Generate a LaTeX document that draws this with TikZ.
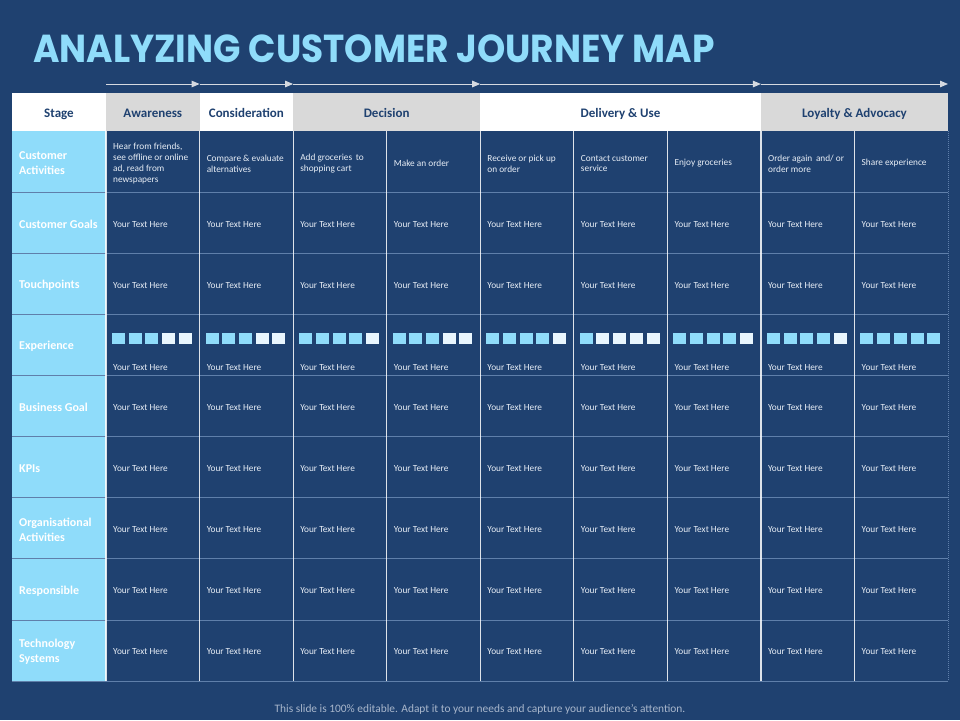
\documentclass[tikz,border=0pt]{standalone}
\usepackage{fontspec}
\setmainfont{Carlito}
\newfontfamily\titlefont{Poppins}
\usetikzlibrary{arrows.meta}
\definecolor{bgnavy}{HTML}{1F4170}
\definecolor{skyb}{HTML}{8FDCFA}
\definecolor{hgray}{HTML}{D9D9D9}
\definecolor{paleb}{HTML}{E9F6FE}
\definecolor{gridh}{HTML}{5F7FAA}
\definecolor{footg}{HTML}{A9B7CC}
\definecolor{celltxt}{HTML}{E8EEF6}
\definecolor{arrowc}{HTML}{D5D9E0}
\begin{document}
\begin{tikzpicture}[x=1pt,y=-1pt,
  hdr/.style={inner sep=0pt, minimum height=38pt, text height=10.5pt, text depth=0pt, text=bgnavy, font=\fontsize{13}{15}\selectfont\bfseries},
  rowlab/.style={anchor=west, inner sep=0pt, text=white, align=left, font=\fontsize{12}{15}\selectfont\bfseries},
  cell/.style={anchor=west, inner sep=0pt, text=celltxt, align=left, font=\fontsize{9.3}{10.8}\selectfont},
  flowarrow/.style={draw=arrowc, line width=1pt, -{Triangle[length=8pt,width=6.5pt]}},
  sq/.style={inner sep=0pt, minimum width=13pt, minimum height=11.3pt},
]
\fill[bgnavy] (0,0) rectangle (960,720);
\useasboundingbox (0,0) rectangle (960,720);

% title
\node[anchor=west, inner sep=0pt, text=skyb, font=\titlefont\fontsize{39}{44}\selectfont\bfseries] (title) at (33,49) {\scalebox{0.922}[1]{ANALYZING CUSTOMER JOURNEY MAP}};

% first column fill
\fill[skyb] (12,131) rectangle (106,681);

% header cells
\node[hdr, fill=white, minimum width=94pt] (hStage) at (59,112) {Stage};
\node[hdr, fill=hgray, minimum width=93.6pt] (hAw) at (152.8,112) {Awareness};
\node[hdr, fill=white, minimum width=93.6pt] (hCo) at (246.35,112) {Consideration};
\node[hdr, fill=hgray, minimum width=187.2pt] (hDe) at (386.65,112) {Decision};
\node[hdr, fill=white, minimum width=280.8pt] (hDU) at (620.55,112) {Delivery \& Use};
\node[hdr, fill=hgray, minimum width=187.2pt] (hLA) at (854.45,112) {Loyalty \& Advocacy};

% flow arrows
\coordinate (a0) at (106,84);
\coordinate (a1) at (199.6,84);
\coordinate (a2) at (293.1,84);
\coordinate (a3) at (480.2,84);
\coordinate (a4) at (760.9,84);
\coordinate (a5) at (948,84);
\draw[flowarrow] (a0) -- (a1);
\draw[flowarrow] (a1) -- (a2);
\draw[flowarrow] (a2) -- (a3);
\draw[flowarrow] (a3) -- (a4);
\draw[flowarrow] (a4) -- (a5);

% grid lines
\foreach \r in {1,...,9}{
  \pgfmathsetmacro{\yy}{131+\r*61.111}
  \draw[gridh, line width=0.7pt] (12,\yy) -- (948,\yy);
}
\foreach \c in {0,...,8}{
  \pgfmathsetmacro{\xx}{106+\c*93.556}
  \draw[white, opacity=0.85, line width=1.2pt] (\xx,131) -- (\xx,681);
}
\draw[gridh, line width=1pt, dash pattern=on 1pt off 1pt] (948,131) -- (948,681);

% row labels
\foreach \lab [count=\r from 0] in {{Customer\\Activities},{Customer Goals},{Touchpoints},{Experience},{Business Goal},{KPIs},{Organisational\\Activities},{Responsible},{Technology\\Systems}}{
  \pgfmathsetmacro{\yy}{131+(\r+0.5)*61.111+1.5}
  \node[rowlab] (lab\r) at (19,\yy) {\lab};
}

% customer activities row
\foreach \txt [count=\c from 0] in {{Hear from friends,\\see offline or online\\ad, read from\\newspapers},{Compare \& evaluate\\alternatives},{Add groceries\, to\\shopping cart},{Make an order},{Receive or pick up\\on order},{Contact customer\\service},{Enjoy groceries},{Order again\, and/ or\\order more},{Share experience}}{
  \pgfmathsetmacro{\xx}{106+\c*93.556+7}
  \node[cell] (ca\c) at (\xx,163.5) {\txt};
}

% plain rows
\foreach \r in {1,2,4,5,6,7,8}{
  \foreach \c in {0,...,8}{
    \pgfmathsetmacro{\xx}{106+\c*93.556+7}
    \pgfmathsetmacro{\yy}{131+(\r+0.5)*61.111+1.5}
    \node[cell] (t\r-\c) at (\xx,\yy) {Your Text Here};
  }
}

% experience row
\foreach \nb [count=\c from 0] in {3,3,4,3,4,1,4,4,5}{
  \pgfmathsetmacro{\xx}{106+\c*93.556+7}
  \node[cell] (t3-\c) at (\xx,368) {Your Text Here};
  \foreach \k in {1,...,5}{
    \pgfmathsetmacro{\sx}{106+\c*93.556+6+6.5+(\k-1)*16.7}
    \ifnum\k>\nb
      \node[sq, fill=paleb] (sq\c-\k) at (\sx,338.5) {};
    \else
      \node[sq, fill=skyb] (sq\c-\k) at (\sx,338.5) {};
    \fi
  }
}

% footer
\node[inner sep=0pt, text=footg, font=\fontsize{11.4}{13}\selectfont] (foot) at (480,709) {This slide is 100\% editable. Adapt it to your needs and capture your audience's attention.};
\end{tikzpicture}
\end{document}
